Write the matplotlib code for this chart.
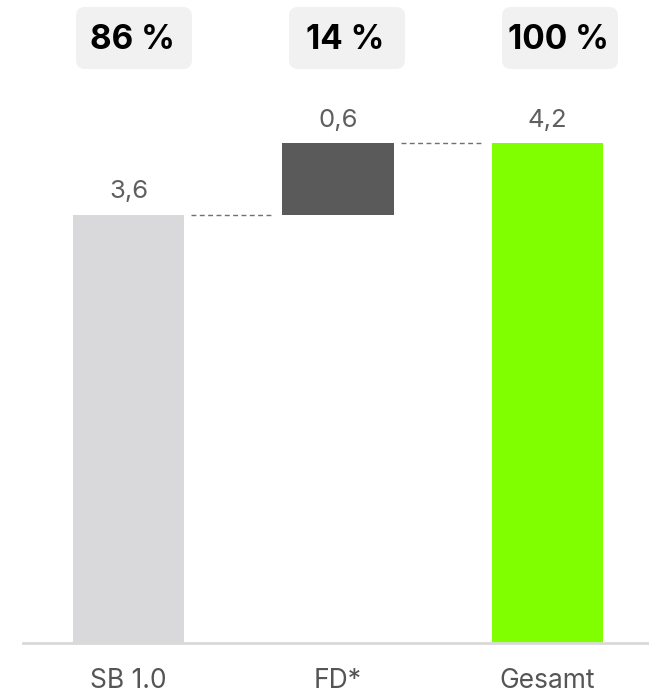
import matplotlib
matplotlib.use("Agg")
import matplotlib.pyplot as plt
from matplotlib.patches import FancyBboxPatch
from matplotlib.transforms import Affine2D

categories = ["SB 1.0", "FD*", "Gesamt"]
values = [3.6, 0.6, 4.2]
value_labels = ["3,6", "0,6", "4,2"]
share_labels = ["86 %", "14 %", "100 %"]
colors = ["#d9d9db", "#5a5a5a", "#80ff00"]

W, H = 649, 697
fig = plt.figure(figsize=(W / 100, H / 100), dpi=100)
ax = fig.add_axes([23 / W, 54 / H, 1 - 23 / W, 1 - 54 / H])

FONT = ["Inter", "DejaVu Sans"]

# waterfall bottoms
bottoms = [0, values[0], 0]
x = list(range(len(categories)))
ax.bar(x, values, bottom=bottoms, width=0.53, color=colors, zorder=2)

# value labels
for i in x:
    top = bottoms[i] + values[i]
    ax.annotate(value_labels[i], (i, top), xytext=(0, 12), textcoords="offset points",
                ha="center", va="baseline", fontsize=18.5, color="#5f5f5f",
                family=FONT, fontweight="normal")

# dashed connectors
levels = [values[0], values[0] + values[1]]
for i, lv in enumerate(levels):
    ax.plot([i + 0.30, i + 0.69], [lv, lv], ls=(0, (3.5, 2.5)), color="#707070", lw=1.0, zorder=1)

ax.set_xlim(-0.5036, 2.4845)
ax.set_ylim(0, 643 / 119)
for s in ["top", "right", "left"]:
    ax.spines[s].set_visible(False)
ax.spines["bottom"].set_color("#d9d9d9")
ax.spines["bottom"].set_linewidth(2)
ax.set_yticks([])
ax.set_xticks(x)
ax.set_xticklabels(categories, fontsize=19, color="#555555", family=FONT)
ax.tick_params(axis="x", length=0, pad=18)

# top share boxes (pixel coords)
pix = Affine2D().scale(1 / W, 1 / H) + fig.transFigure
box_lefts = [76, 289, 502]
box_w, box_top, box_h = 116, 7, 62
for bl, lab in zip(box_lefts, share_labels):
    y0 = H - box_top - box_h
    p = FancyBboxPatch((bl + 8, y0 + 8), box_w - 16, box_h - 16,
                       boxstyle="round,pad=8,rounding_size=9",
                       transform=pix, facecolor="#f1f1f1", edgecolor="none")
    fig.patches.append(p)
    fig.text(bl + box_w / 2 - 2, H - box_top - box_h / 2 - 2, lab, transform=pix,
             ha="center", va="center", fontsize=24, fontweight="bold",
             color="#000000", family=FONT)

fig.savefig("out.png", dpi=100)
